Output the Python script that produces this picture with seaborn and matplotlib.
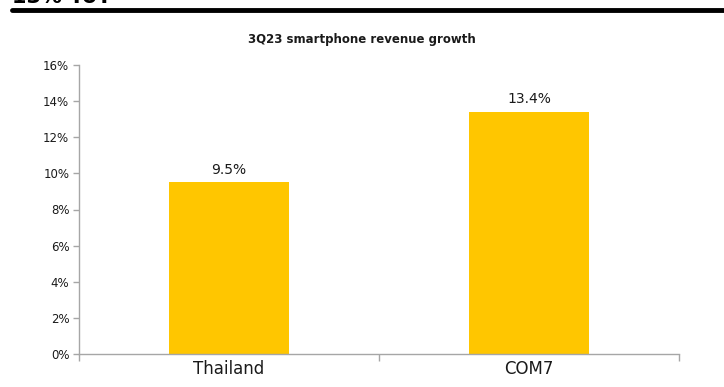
import matplotlib
matplotlib.use("Agg")
import matplotlib.pyplot as plt
import seaborn as sns
import pandas as pd
from matplotlib.ticker import FixedLocator, PercentFormatter

categories = ["Thailand", "COM7"]
growth = [9.5, 13.4]
y_ticks = [0, 2, 4, 6, 8, 10, 12, 14, 16]
title = "3Q23 smartphone revenue growth"
header = "13% YoY"

df = pd.DataFrame({"market": categories, "growth": growth})

sns.set_style("white")
plt.rcParams['font.family'] = ['DejaVu Sans']

fig = plt.figure(figsize=(7.24, 3.87), dpi=100)
ax = fig.add_axes([79/724, 33/387, 600/724, 289/387])

sns.barplot(data=df, x="market", y="growth", color="#FFC600", width=0.4,
            saturation=1, ax=ax, edgecolor="none")

for c in ax.containers:
    ax.bar_label(c, labels=[f"{v:.1f}%" for v in growth], padding=4,
                 fontsize=10, color="#1a1a1a")

ax.set_ylim(0, 16)
ax.set_xlim(-0.5, 1.5)
ax.set_yticks(y_ticks)
ax.yaxis.set_major_formatter(PercentFormatter(decimals=0))
ax.set_xlabel("")
ax.set_ylabel("")
for s in ["top", "right"]:
    ax.spines[s].set_visible(False)
for s in ["left", "bottom"]:
    ax.spines[s].set_color("#A6A6A6")
    ax.spines[s].set_linewidth(1.0)

ax.tick_params(axis="y", which="major", length=4, width=1, color="#A6A6A6",
               labelsize=8.5, labelcolor="#1a1a1a", pad=3, left=True)
ax.tick_params(axis="x", which="major", length=0, labelsize=12,
               labelcolor="#1a1a1a", pad=4)
ax.xaxis.set_minor_locator(FixedLocator([-0.5, 0.5, 1.5]))
ax.tick_params(axis="x", which="minor", length=5, width=1, color="#A6A6A6",
               bottom=True)

fig.text(362/724, 1 - 39/387, title, ha="center", va="center",
         fontsize=8.5, fontweight="bold", color="#1a1a1a")

# header remnants (cut off at the top edge, as in the reference)
fig.add_artist(plt.Line2D([12/724, 1.0], [1 - 10/387, 1 - 10/387],
                          transform=fig.transFigure, color="black", linewidth=3.5))
fig.text(12/724, 1 - 3/387, header, ha="left", va="baseline",
         fontsize=15, fontweight="bold", color="black")

fig.savefig("out.png", dpi=100)
